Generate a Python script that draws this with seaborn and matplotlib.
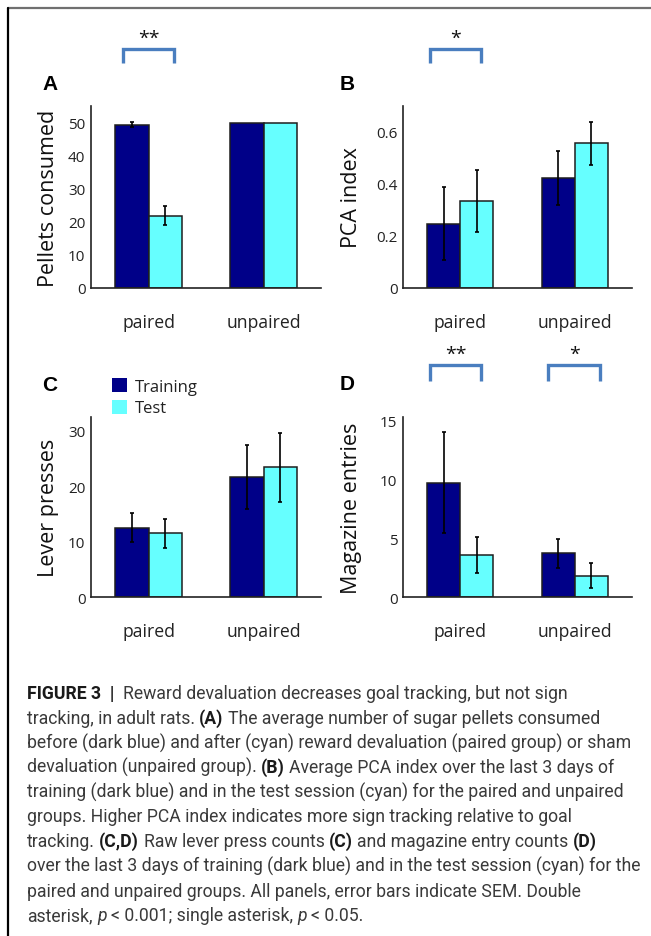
import numpy as np
import pandas as pd
import matplotlib
matplotlib.use("Agg")
import matplotlib.pyplot as plt
import seaborn as sns
from matplotlib.patches import Patch
from matplotlib.lines import Line2D
from matplotlib import transforms

# ---------------- data ----------------
groups = ["paired", "unpaired"]
phases = ["Training", "Test"]

pellets_training = [49.4, 50.0]
pellets_test = [21.9, 50.0]
pellets_training_sem = [0.8, 0.0]
pellets_test_sem = [3.0, 0.0]

pca_training = [0.248, 0.424]
pca_test = [0.335, 0.557]
pca_training_sem = [0.139, 0.104]
pca_test_sem = [0.120, 0.082]

lever_training = [12.5, 21.7]
lever_test = [11.5, 23.4]
lever_training_sem = [2.6, 5.8]
lever_test_sem = [2.6, 6.3]

magazine_training = [9.7, 3.7]
magazine_test = [3.56, 1.8]
magazine_training_sem = [4.3, 1.23]
magazine_test_sem = [1.55, 1.06]

pellets_ticks = [0, 10, 20, 30, 40, 50]
pca_ticks = [0, 0.2, 0.4, 0.6]
pca_ticklabels = ["0", "0.2", "0.4", "0.6"]
lever_ticks = [0, 10, 20, 30]
magazine_ticks = [0, 5, 10, 15]

# significance markers: (panel, group, label)
significance = [("A", "paired", "**"), ("B", "paired", "*"),
                ("D", "paired", "**"), ("D", "unpaired", "*")]

caption_lines = [
    [("FIGURE 3  |  ", "b"), ("Reward devaluation decreases goal tracking, but not sign", "r")],
    [("tracking, in adult rats. ", "r"), ("(A)", "b"), (" The average number of sugar pellets consumed", "r")],
    [("before (dark blue) and after (cyan) reward devaluation (paired group) or sham", "r")],
    [("devaluation (unpaired group). ", "r"), ("(B)", "b"), (" Average PCA index over the last 3 days of", "r")],
    [("training (dark blue) and in the test session (cyan) for the paired and unpaired", "r")],
    [("groups. Higher PCA index indicates more sign tracking relative to goal", "r")],
    [("tracking. ", "r"), ("(C,D)", "b"), (" Raw lever press counts ", "r"), ("(C)", "b"),
     (" and magazine entry counts ", "r"), ("(D)", "b")],
    [("over the last 3 days of training (dark blue) and in the test session (cyan) for the", "r")],
    [("paired and unpaired groups. All panels, error bars indicate SEM. Double", "r")],
    [("asterisk, ", "r"), ("p", "i"), (" < 0.001; single asterisk, ", "r"), ("p", "i"), (" < 0.05.", "r")],
]

# ---------------- style ----------------
NAVY = "#000088"
CYAN = "#66FFFF"
BRACKET = "#4A7EBF"
palette = {"Training": NAVY, "Test": CYAN}

sns.set_theme(style="white")
plt.rcParams["font.family"] = ["Open Sans", "DejaVu Sans"]
plt.rcParams["text.color"] = "#222222"

W, H = 651, 937
fig = plt.figure(figsize=(W / 100, H / 100), dpi=100)
fig.patch.set_facecolor("white")


def px_axes(left, top, right, bottom):
    return fig.add_axes([left / W, 1 - bottom / H, (right - left) / W, (bottom - top) / H])


def draw_panel(ax, train, test, train_sem, test_sem, ylabel, ylim, ticks, ticklabels, label_x):
    df = pd.DataFrame({
        "group": groups * 2,
        "phase": [phases[0]] * len(groups) + [phases[1]] * len(groups),
        "value": list(train) + list(test),
    })
    sns.barplot(data=df, x="group", y="value", hue="phase", order=groups,
                hue_order=phases, palette=palette, saturation=1, width=0.574,
                gap=0, errorbar=None, edgecolor="#1e1e1e", linewidth=1.1,
                legend=False, ax=ax)
    for container, sems in zip(ax.containers, [train_sem, test_sem]):
        for bar, s in zip(container, sems):
            if s > 0:
                ax.errorbar(bar.get_x() + bar.get_width() / 2, bar.get_height(),
                            yerr=s, color="black", lw=1.2, capsize=1.2,
                            capthick=1.2, zorder=5)
    ax.set_xlim(-0.5, len(groups) - 0.5)
    ax.set_ylim(*ylim)
    ax.set_yticks(ticks)
    ax.set_yticklabels(ticklabels)
    ax.set_xlabel("")
    ax.set_ylabel(ylabel, fontsize=15.5, color="#111111", va="center")
    ax.yaxis.set_label_coords(label_x, 0.5)
    for side in ("top", "right"):
        ax.spines[side].set_visible(False)
    for side in ("left", "bottom"):
        ax.spines[side].set_color("#222222")
        ax.spines[side].set_linewidth(1.2)
    ax.tick_params(axis="both", length=0, colors="#222222")
    ax.tick_params(axis="y", labelsize=11, pad=4)
    ax.tick_params(axis="x", labelsize=12.7, pad=18)
    ax.set_facecolor("white")


axA = px_axes(91, 107, 321, 289)
axB = px_axes(403, 107, 632, 289)
axC = px_axes(91, 418, 321, 598)
axD = px_axes(403, 418, 632, 598)

draw_panel(axA, pellets_training, pellets_test, pellets_training_sem, pellets_test_sem,
           "Pellets consumed", (0, 55), pellets_ticks, [str(t) for t in pellets_ticks], -0.185)
draw_panel(axB, pca_training, pca_test, pca_training_sem, pca_test_sem,
           "PCA index", (0, 0.70), pca_ticks, pca_ticklabels, -0.225)
draw_panel(axC, lever_training, lever_test, lever_training_sem, lever_test_sem,
           "Lever presses", (0, 32.5), lever_ticks, [str(t) for t in lever_ticks], -0.185)
draw_panel(axD, magazine_training, magazine_test, magazine_training_sem, magazine_test_sem,
           "Magazine entries", (0, 15.3), magazine_ticks, [str(t) for t in magazine_ticks], -0.225)

axes = {"A": axA, "B": axB, "C": axC, "D": axD}

# panel letters
for letter, (x, y) in {"A": (42, 84), "B": (340, 84), "C": (42, 386), "D": (340, 385)}.items():
    fig.text(x / W, 1 - y / H, letter, fontsize=15, fontweight="bold",
             family=["Liberation Sans", "DejaVu Sans"], color="black",
             ha="left", va="center")

# significance brackets drawn above each group (offsets in pixels above the axes top)
bracket_span = {("A", "paired"): (-0.22, 0.22), ("B", "paired"): (-0.26, 0.18),
                ("D", "paired"): (-0.26, 0.18), ("D", "unpaired"): (-0.23, 0.22)}
for panel, grp, label in significance:
    ax = axes[panel]
    h_px = ax.get_position().height * H
    top = 1 + (57 if panel in "AB" else 52) / h_px
    leg = 1 + (43 if panel in "AB" else 36) / h_px
    star = 1 + (68 if panel in "AB" else 63) / h_px
    trans = transforms.blended_transform_factory(ax.transData, ax.transAxes)
    c = groups.index(grp)
    x0, x1 = c + bracket_span[(panel, grp)][0], c + bracket_span[(panel, grp)][1]
    ax.add_line(Line2D([x0, x0, x1, x1], [leg, top, top, leg], transform=trans,
                       color=BRACKET, lw=2.4, clip_on=False,
                       solid_joinstyle="miter", solid_capstyle="butt"))
    ax.text((x0 + x1) / 2, star, label, transform=trans, ha="center", va="center",
            fontsize=14, color="#111111", clip_on=False)

# legend
axC.legend(handles=[Patch(facecolor=palette[p], edgecolor="none") for p in phases],
           labels=phases, loc="upper left",
           bbox_to_anchor=(112 / W, 1 - 379 / H), bbox_transform=fig.transFigure,
           frameon=False, fontsize=12, handlelength=0.9, handleheight=0.9,
           handletextpad=0.5, labelspacing=0.3, borderpad=0, borderaxespad=0)

# page frame
fig.add_artist(Line2D([8 / W, 1], [1 - 9 / H, 1 - 9 / H], transform=fig.transFigure,
                      color="#707070", lw=1.6))
fig.add_artist(Line2D([8 / W, 8 / W], [1 - 9 / H, 0], transform=fig.transFigure,
                      color="black", lw=1.6))

# caption
renderer = fig.canvas.get_renderer()
CAP_FAMILY = ["Roboto", "Liberation Sans", "DejaVu Sans"]
CAP_COLOR = "#3a3a3a"


def font_kw(size, style):
    kw = dict(fontsize=size, family=CAP_FAMILY)
    if style == "b":
        kw["fontweight"] = "bold"
    elif style == "i":
        kw["fontstyle"] = "italic"
    return kw


def run_width(text, size, style):
    t1 = fig.text(0, 0, "|" + text + "|", **font_kw(size, style))
    t2 = fig.text(0, 0, "||", **font_kw(size, style))
    w = t1.get_window_extent(renderer).width - t2.get_window_extent(renderer).width
    t1.remove()
    t2.remove()
    return w


widest = max(sum(run_width(t, 10, s) for t, s in line) for line in caption_lines)
cap_size = 10 * 616 / widest

x_start, y_first, y_step = 27, 699, 24.7
for i, line in enumerate(caption_lines):
    x = x_start
    y = y_first + i * y_step
    for text, style in line:
        stripped = text.lstrip(" ")
        lead = len(text) - len(stripped)
        xd = x + (run_width(" " * lead, cap_size, style) if lead else 0)
        color = "#1a1a1a" if style == "b" else CAP_COLOR
        fig.text(xd / W, 1 - y / H, stripped.rstrip(" "), ha="left", va="baseline",
                 color=color, **font_kw(cap_size, style))
        x += run_width(text, cap_size, style)

fig.savefig("out.png", dpi=100, facecolor="white")
